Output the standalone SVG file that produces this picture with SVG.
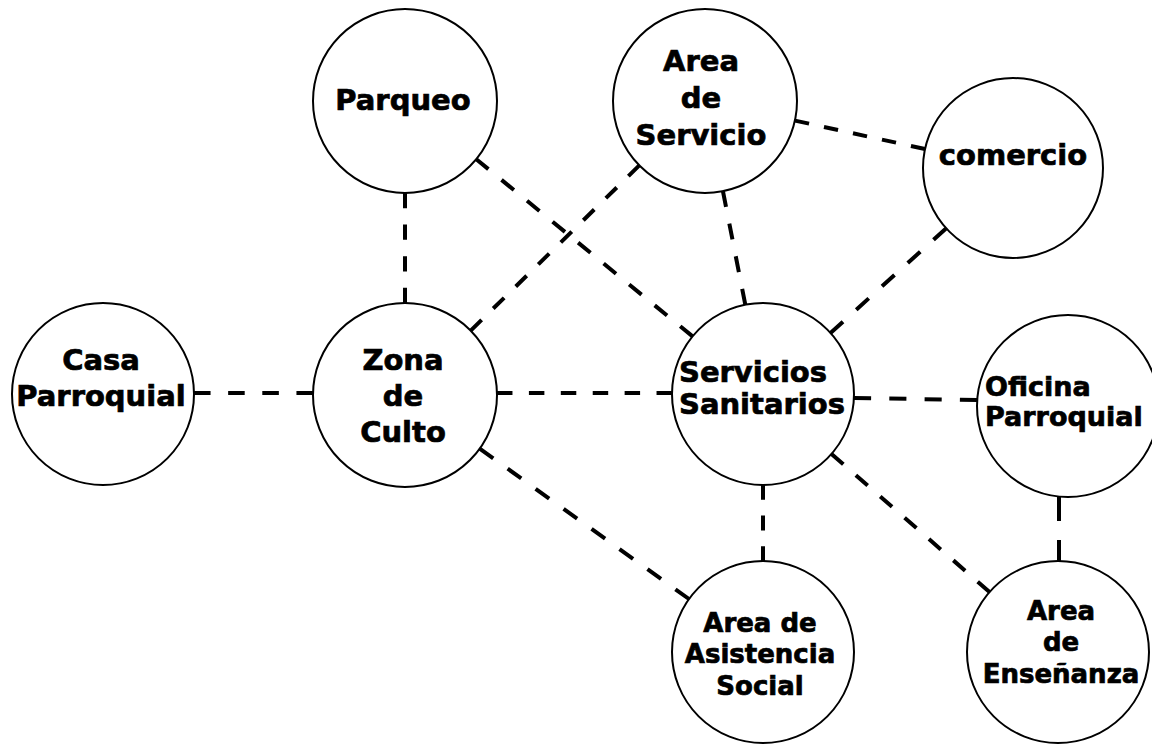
<svg xmlns="http://www.w3.org/2000/svg" width="1152" height="746" viewBox="0 0 1152 746">
<style>
.node{fill:#fff;stroke:#000;stroke-width:2}
.lbl{font-family:"DejaVu Sans","Liberation Sans",sans-serif;font-weight:bold;font-size:29px;fill:#000;stroke:#000;stroke-width:0.7;text-anchor:middle}
.sm{font-size:26px}
.st{text-anchor:start}
.of{font-size:27px}
.con{stroke:#000;stroke-width:4;stroke-dasharray:16 17;fill:none}
.solid2{stroke-dasharray:24 19}
</style>
<rect width="1152" height="746" fill="#fff"/>
<g id="connectors">
<line class="con" x1="405" y1="193" x2="405" y2="303" pathLength="115"/>
<line class="con" x1="476" y1="159" x2="692.6" y2="336.4" pathLength="280"/>
<line class="con" x1="639.3" y1="165.4" x2="470.7" y2="330.6" pathLength="247"/>
<line class="con" x1="795" y1="120.6" x2="925" y2="149" pathLength="148"/>
<line class="con" x1="722.9" y1="191" x2="745.3" y2="304.7" pathLength="115"/>
<line class="con" x1="946" y1="228.4" x2="830.5" y2="333" pathLength="148"/>
<line class="con" x1="194" y1="393" x2="313" y2="393" pathLength="115"/>
<line class="con" x1="497" y1="393" x2="672" y2="393" pathLength="181"/>
<line class="con" x1="854" y1="398" x2="977" y2="400" pathLength="115"/>
<line class="con" x1="479.7" y1="448.6" x2="689" y2="599" pathLength="247"/>
<line class="con" x1="763" y1="485" x2="763" y2="561" pathLength="82"/>
<line class="con" x1="831.5" y1="453.9" x2="989.5" y2="592" pathLength="214"/>
<line class="con solid2" x1="1059" y1="497" x2="1059" y2="561"/>
</g>
<g id="parqueo">
<circle class="node" cx="405" cy="101" r="92"/>
<text class="lbl" x="403" y="110">Parqueo</text>
</g>
<g id="area-servicio">
<circle class="node" cx="705" cy="101" r="92"/>
<text class="lbl" x="701" y="71">Area</text>
<text class="lbl" x="701" y="108">de</text>
<text class="lbl" x="701" y="145">Servicio</text>
</g>
<g id="comercio">
<circle class="node" cx="1013" cy="168" r="90"/>
<text class="lbl" x="1013" y="165">comercio</text>
</g>
<g id="casa-parroquial">
<circle class="node" cx="103" cy="394" r="91"/>
<text class="lbl" x="101" y="370">Casa</text>
<text class="lbl" x="101" y="406">Parroquial</text>
</g>
<g id="zona-culto">
<circle class="node" cx="405" cy="395" r="92"/>
<text class="lbl" x="403" y="370">Zona</text>
<text class="lbl" x="403" y="406">de</text>
<text class="lbl" x="403" y="442">Culto</text>
</g>
<g id="servicios-sanitarios">
<circle class="node" cx="763" cy="394" r="91"/>
<text class="lbl st" x="679" y="382">Servicios</text>
<text class="lbl st" x="679" y="414">Sanitarios</text>
</g>
<g id="oficina-parroquial">
<circle class="node" cx="1068" cy="406" r="91"/>
<text class="lbl st of" x="985" y="396">Oficina</text>
<text class="lbl st of" x="985" y="426">Parroquial</text>
</g>
<g id="asistencia-social">
<circle class="node" cx="763" cy="652" r="91"/>
<text class="lbl sm" x="760" y="632">Area de</text>
<text class="lbl sm" x="760" y="663">Asistencia</text>
<text class="lbl sm" x="760" y="695">Social</text>
</g>
<g id="area-ensenanza">
<circle class="node" cx="1058" cy="652" r="91"/>
<text class="lbl sm" x="1061" y="620">Area</text>
<text class="lbl sm" x="1061" y="651">de</text>
<text class="lbl sm" x="1061" y="683">Enseñanza</text>
</g>
</svg>
